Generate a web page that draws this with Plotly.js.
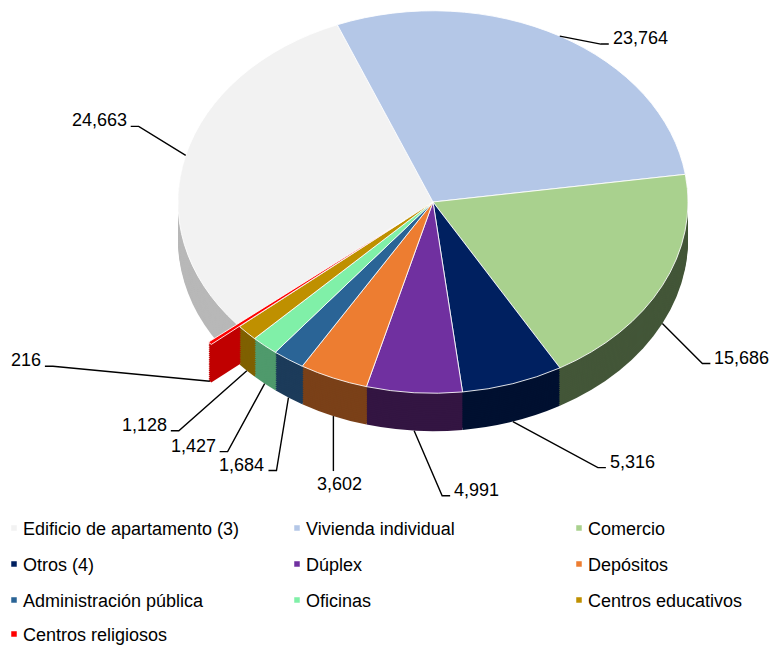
<!DOCTYPE html>
<html><head><meta charset="utf-8">
<script src="https://cdn.plot.ly/plotly-3.0.1.min.js"></script>
<style>html,body{margin:0;padding:0;background:#fff}#chart{width:773px;height:645px}</style>
</head><body><div id="chart"></div>
<script>
// ---- data ----
const categories = ["Edificio de apartamento (3)","Vivienda individual","Comercio","Otros (4)","Dúplex","Depósitos","Administración pública","Oficinas","Centros educativos","Centros religiosos"];
const values = [24663,23764,15686,5316,4991,3602,1684,1427,1128,216];
const valueLabels = values.map(v => v.toLocaleString('en-US'));

// ---- styles ----
const topColors  = ['#f2f2f2','#b4c7e7','#a9d18e','#002060','#7030a0','#ed7d31','#2a6496','#80f0a8','#bf9000','#ff0000'];
const wallColors = ['#b8b8b8','#7d8ba1','#435638','#001030','#331542','#7a4018','#1c3b5a','#4f9a6c','#7f6000','#c00000'];
const pulls = [0,0,0,0,0,0,0,0,0,0.145];
// label leader offsets (screen px, anchor -> elbow) and side
const labelOffsets = [[-47,-29],[41,8],[40,40],[85,46],[28,65],[0,55],[-12,73],[-37,68],[-68,60],[-157,-15]];
const labelSide = ['left','right','right','right','right','below','left','left','left','left'];

// ---- geometry ----
const W = 773, H = 645;
const CX = 433, CY = 202, R = 255, SQ = 0.75, DEPTH = 38, ROT = 230.3;
const maxPull = Math.max(...pulls);
const half = R * (1 + maxPull);
const cyUn = 296;
const depthUn = DEPTH / SQ;
const NL = 20;
const FONT = 'Liberation Sans, Arial, sans-serif';

function domainFor(off) {
  const c = cyUn + off;
  return {x: [(CX - half) / W, (CX + half) / W], y: [1 - (c + half) / H, 1 - (c - half) / H]};
}

const traces = [];
for (let k = NL; k >= 1; k--) {
  traces.push({
    type: 'pie', labels: categories, values: values, sort: false, direction: 'clockwise',
    rotation: ROT, pull: pulls, marker: {colors: wallColors, line: {width: 0}},
    textinfo: 'none', hoverinfo: 'skip', showlegend: false, domain: domainFor(depthUn * k / NL)
  });
}
traces.push({
  type: 'pie', labels: categories, values: values, sort: false, direction: 'clockwise',
  rotation: ROT, pull: pulls, marker: {colors: topColors, line: {color: '#ffffff', width: 1}},
  textinfo: 'none', hoverinfo: 'skip', showlegend: true, domain: domainFor(0)
});

// ---- labels & leader lines ----
const total = values.reduce((a, b) => a + b, 0);
const shapes = [], annotations = [];
let cum = 0;
const px = x => x / W, py = y => 1 - y / H;
values.forEach((v, i) => {
  const th = (ROT + (cum + v / 2) / total * 360) * Math.PI / 180;
  cum += v;
  const rr = R * (1 + pulls[i]);
  const ax = CX + rr * Math.sin(th);
  const ay = CY - SQ * rr * Math.cos(th) + (Math.cos(th) < 0 ? DEPTH : 0);
  const ex = ax + labelOffsets[i][0], ey = ay + labelOffsets[i][1];
  let path, ann;
  if (labelSide[i] === 'below') {
    path = `M${px(ax)},${py(ay)} L${px(ex)},${py(ey)}`;
    ann = {x: px(ex + 6), y: py(ey + 13), xanchor: 'center', yanchor: 'middle'};
  } else {
    const s = labelSide[i] === 'right' ? 1 : -1;
    const hx = ex + s * 8;
    path = `M${px(ax)},${py(ay)} L${px(ex)},${py(ey)} L${px(hx)},${py(ey)}`;
    ann = {x: px(hx + s * 3), y: py(ey - 6), xanchor: s > 0 ? 'left' : 'right', yanchor: 'middle'};
  }
  shapes.push({type: 'path', xref: 'paper', yref: 'paper', path: path, line: {color: '#000', width: 1.4}});
  annotations.push(Object.assign(ann, {xref: 'paper', yref: 'paper', text: valueLabels[i], showarrow: false,
    borderpad: 0, font: {family: FONT, size: 18, color: '#000'}}));
});

const layout = {
  width: W, height: H, margin: {l: 0, r: 0, t: 0, b: 0, autoexpand: false},
  paper_bgcolor: '#ffffff', plot_bgcolor: '#ffffff', showlegend: true,
  legend: {orientation: 'h', x: 0, y: 1, xanchor: 'left', yanchor: 'top', maxheight: 1,
    entrywidth: 250, entrywidthmode: 'pixels', bgcolor: 'rgba(0,0,0,0)',
    font: {family: FONT, size: 18, color: '#000'}},
  shapes: shapes, annotations: annotations
};

const colLeft = [23, 306, 588];
const rowMid = [529, 565, 601, 635];
const gd = document.getElementById('chart');
Plotly.newPlot(gd, traces, layout, {staticPlot: true, displayModeBar: false}).then(() => {
  // map the top pie exactly onto the intended ellipse (center CX,CY; radii R, SQ*R)
  const cd0 = gd.calcdata[gd.calcdata.length - 1][0];
  const a = R / cd0.r, b = SQ * R / cd0.r;
  const pl = gd.querySelector('.pielayer');
  pl.setAttribute('transform', `translate(${CX - a * cd0.cx},${CY - b * cd0.cy}) scale(${a},${b})`);
  gd.querySelectorAll('.legend [clip-path]').forEach(e => e.removeAttribute('clip-path'));
  const items = gd.querySelectorAll('.legend g.traces');
  items.forEach((it, i) => {
    const col = i % 3, row = Math.floor(i / 3);
    const txt = it.querySelector('text.legendtext');
    const r = txt.getBoundingClientRect();
    const dx = colLeft[col] - r.left, dy = rowMid[row] - (r.top + r.height / 2);
    const m = /translate\(\s*([-\d.e]+)[ ,]+([-\d.e]+)\s*\)/.exec(it.getAttribute('transform') || 'translate(0,0)');
    it.setAttribute('transform', `translate(${+m[1] + dx},${+m[2] + dy})`);
    const ic = it.querySelector('path.legendpie');
    if (ic) {
      const tx = +(txt.getAttribute('x') || 40) - 9;
      ic.setAttribute('transform', `translate(${tx},0) scale(0.5)`);
    }
  });
});
</script></body></html>
